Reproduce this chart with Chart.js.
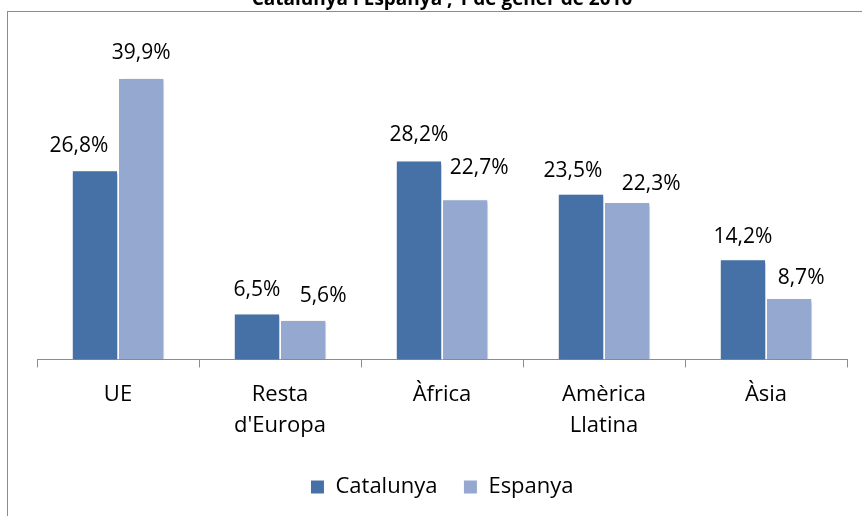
<!DOCTYPE html>
<html>
<head>
<meta charset="utf-8">
<script src="https://cdn.jsdelivr.net/npm/chart.js@4"></script>
<style>
    html, body { margin: 0; padding: 0; background: #fff; }
    #wrap { position: relative; width: 862px; height: 516px; overflow: hidden; }
    #frame { position: absolute; left: 7px; top: 11px; width: 900px; height: 600px; border: 1px solid #8c8c8c; }
    #chart { position: absolute; left: 0; top: 0; }
</style>
</head>
<body>
<div id="wrap">
    <div id="frame"></div>
    <canvas id="chart" width="862" height="516"></canvas>
</div>
<script>
const categories = ['UE', ['Resta', "d'Europa"], 'Àfrica', ['Amèrica', 'Llatina'], 'Àsia'];
const catalunya = [26.8, 6.5, 28.2, 23.5, 14.2];
const espanya = [39.9, 5.6, 22.7, 22.3, 8.7];
const titleText = 'Catalunya i Espanya , 1 de gener de 2010';

// label nudges (px) as placed in the original, [dx, distance above bar]
const labelShift = [
    [[-16, 26], [0, 25], [0, 27], [-8, 24], [0, 24]],
    [[0, 26], [20, 25], [14, 33], [24, 20], [12, 22]]
];

const fontFamily = '"Open Sans", sans-serif';

const barShadow = {
    id: 'barShadow',
    beforeDatasetsDraw(chart) {
        const ctx = chart.ctx;
        ctx.save();
        ctx.shadowColor = 'rgba(0,0,0,0.22)';
        ctx.shadowBlur = 3;
        ctx.shadowOffsetX = 1.5;
        ctx.shadowOffsetY = 1.5;
    },
    afterDatasetsDraw(chart) {
        chart.ctx.restore();
    }
};

const valueLabels = {
    id: 'valueLabels',
    afterDatasetsDraw(chart) {
        const ctx = chart.ctx;
        ctx.save();
        ctx.font = '21px ' + fontFamily;
        ctx.fillStyle = '#000';
        ctx.textAlign = 'center';
        ctx.textBaseline = 'alphabetic';
        chart.data.datasets.forEach((ds, i) => {
            chart.getDatasetMeta(i).data.forEach((bar, j) => {
                const s = labelShift[i][j];
                const txt = ds.data[j].toFixed(1).replace('.', ',') + '%';
                ctx.fillText(txt, bar.x + s[0], bar.y - s[1] + 7.5);
            });
        });
        ctx.restore();
    }
};

const topTitle = {
    id: 'topTitle',
    afterDraw(chart) {
        const ctx = chart.ctx;
        ctx.save();
        ctx.font = 'bold 19px ' + fontFamily;
        ctx.fillStyle = '#000';
        ctx.textAlign = 'center';
        ctx.textBaseline = 'alphabetic';
        ctx.fillText(titleText, 442, 5);
        ctx.restore();
    }
};

new Chart(document.getElementById('chart'), {
    type: 'bar',
    data: {
        labels: categories,
        datasets: [{
            label: 'Catalunya',
            data: catalunya,
            backgroundColor: '#4571a6',
            borderColor: '#ffffff',
            borderWidth: 1,
            categoryPercentage: 0.57,
            barPercentage: 1.0
        }, {
            label: 'Espanya',
            data: espanya,
            backgroundColor: '#94a8d0',
            borderColor: '#ffffff',
            borderWidth: 1,
            categoryPercentage: 0.57,
            barPercentage: 1.0
        }]
    },
    options: {
        responsive: false,
        animation: false,
        layout: {
            padding: { left: 37, right: 15, top: 42, bottom: 8 }
        },
        plugins: {
            legend: {
                position: 'bottom',
                labels: {
                    boxWidth: 14,
                    boxHeight: 14,
                    padding: 26,
                    color: '#000',
                    font: { family: fontFamily, size: 22 }
                }
            },
            tooltip: { enabled: false }
        },
        scales: {
            x: {
                offset: true,
                afterFit(scale) {
                    scale.height -= 3;
                },
                grid: {
                    offset: true,
                    drawOnChartArea: false,
                    drawTicks: true,
                    tickLength: 8,
                    color: '#8c8c8c'
                },
                border: { display: true, color: '#8c8c8c', width: 1 },
                ticks: {
                    color: '#000',
                    padding: 12,
                    maxRotation: 0,
                    font: { family: fontFamily, size: 22, lineHeight: 1.4 }
                }
            },
            y: {
                display: false,
                min: 0,
                max: 45
            }
        }
    },
    plugins: [barShadow, valueLabels, topTitle]
});
</script>
</body>
</html>
